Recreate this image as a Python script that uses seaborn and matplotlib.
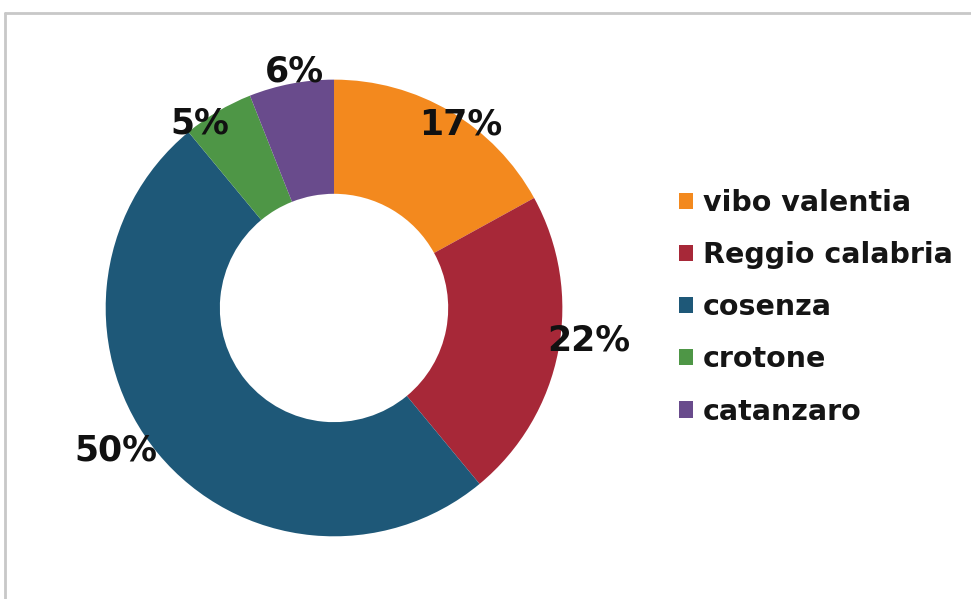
import numpy as np
import seaborn as sns
import matplotlib.pyplot as plt
from matplotlib.lines import Line2D
from matplotlib.patches import Patch

provinces = ["vibo valentia", "Reggio calabria", "cosenza", "crotone", "catanzaro"]
shares = [17, 22, 50, 5, 6]
colors = ["#F3891E", "#A72838", "#1E5878", "#4E9646", "#694B8C"]

# label placement tweaks (radius factor, angle shift in degrees)
label_r = [0.975, 1.123, 1.141, 1.0, 1.049]
label_dt = [-4.0, 3.6, -6.5, 5.3, -1.4]

sns.set_theme(style="white")
plt.rcParams["font.family"] = ["DejaVu Sans"]

fig = plt.figure(figsize=(9.71, 5.99), dpi=100)
fig.patch.set_facecolor("white")

# axes placed so the donut centre sits at about (334, 308) px with radius 228 px
ax = fig.add_axes([0.0618, 0.0284, 0.5644, 0.9149])
wedges, _ = ax.pie(
    shares,
    colors=colors,
    startangle=90,
    counterclock=False,
    radius=1.0,
    wedgeprops=dict(width=0.5, linewidth=0),
)
ax.set_xlim(-1.2, 1.2)
ax.set_ylim(-1.2, 1.2)
ax.set_aspect("equal")
ax.axis("off")

# percentage labels
for w, v, rf, dt in zip(wedges, shares, label_r, label_dt):
    mid = np.deg2rad((w.theta1 + w.theta2) / 2 + dt)
    ax.text(rf * np.cos(mid), rf * np.sin(mid), f"{v}%",
            ha="center", va="center", fontsize=25, fontweight="bold",
            color="#111111")

# legend with small square keys
handles = [Patch(facecolor=c, edgecolor="none") for c in colors]
leg = fig.legend(handles, provinces, loc="center left",
                 bbox_to_anchor=(0.699, 0.487), frameon=False,
                 prop=dict(size=20.5, weight="bold"),
                 handlelength=0.5, handleheight=0.5, handletextpad=0.35,
                 labelspacing=0.85, borderpad=0, borderaxespad=0)
for t in leg.get_texts():
    t.set_color("#151515")

# light grey frame (top and left edges visible)
fig.add_artist(Line2D([5 / 971, 1.0], [1 - 13 / 599, 1 - 13 / 599],
                      transform=fig.transFigure, color="#C8C8C8", lw=2))
fig.add_artist(Line2D([5 / 971, 5 / 971], [0.0, 1 - 13 / 599],
                      transform=fig.transFigure, color="#C8C8C8", lw=2))

plt.savefig("out.png", dpi=100)
